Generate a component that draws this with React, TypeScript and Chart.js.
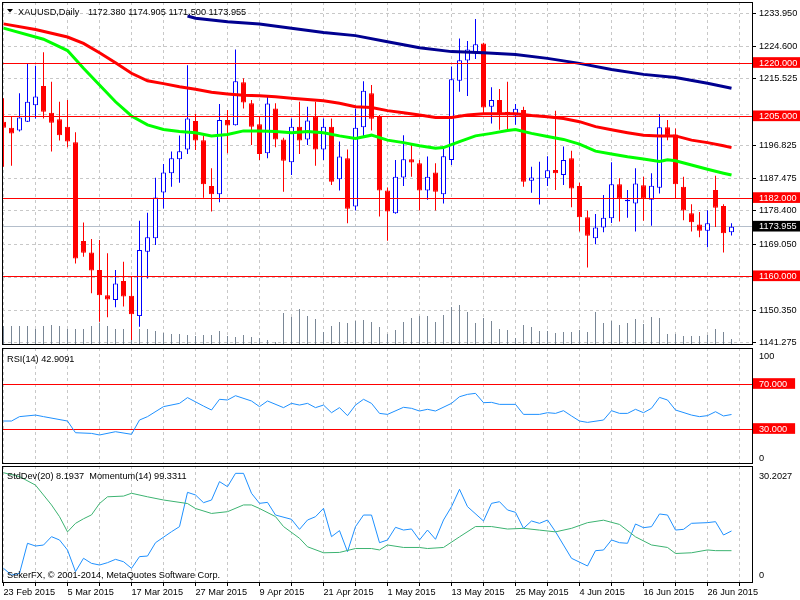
import React, { useEffect, useRef } from 'react';
import { Chart, registerables } from 'chart.js';

Chart.register(...registerables);

const FONT = "'Liberation Sans', Arial, sans-serif";
const FS = 9.2;
const GRID_COLOR = '#C8C8C8';

// ---- price data (daily candles, index 0 = 23 Feb 2015) ----
const OPEN = [1203.5,1201.8,1201.0,1203.5,1208.1,1213.5,1206.0,1204.2,1202.1,1197.7,1169.9,1166.7,1161.8,1154.7,1153.3,1158.7,1154.5,1148.8,1166.9,1170.7,1183.6,1189.0,1192.9,1195.7,1203.7,1198.3,1185.4,1183.1,1204.0,1202.5,1214.6,1208.7,1202.8,1194.6,1207.2,1198.5,1192.1,1202.1,1198.5,1204.9,1195.7,1202.1,1187.3,1193.2,1179.6,1201.9,1211.5,1205.1,1184.1,1177.7,1187.8,1192.9,1191.8,1184.1,1189.2,1183.1,1192.7,1215.0,1220.7,1223.0,1225.5,1207.7,1209.6,1206.3,1205.2,1206.8,1186.9,1187.5,1187.6,1189.9,1188.5,1193.2,1185.4,1176.6,1170.7,1173.7,1176.3,1185.9,1181.1,1180.5,1185.6,1181.5,1184.9,1201.9,1199.9,1185.2,1177.7,1174.6,1172.8,1184.3,1179.8,1172.38];
const HIGH = [1210.1,1204.9,1211.5,1219.9,1219.2,1223.0,1214.7,1209.1,1209.6,1200.5,1175.1,1170.5,1170.2,1166.5,1161.8,1164.1,1159.9,1175.6,1177.9,1187.7,1191.6,1195.1,1199.6,1219.4,1205.7,1199.5,1190.4,1208.5,1206.8,1223.8,1215.7,1209.6,1204.9,1210.7,1208.7,1199.0,1204.4,1209.1,1207.7,1209.1,1204.4,1204.4,1197.9,1195.7,1207.2,1214.9,1213.8,1205.4,1185.0,1192.7,1199.7,1197.4,1192.7,1193.7,1191.8,1196.5,1219.0,1226.9,1226.2,1232.4,1225.7,1213.2,1212.7,1214.7,1208.5,1207.7,1190.8,1192.2,1193.8,1206.6,1196.5,1195.3,1186.3,1178.5,1177.5,1182.9,1192.1,1187.6,1184.3,1190.4,1188.0,1189.0,1205.6,1204.0,1201.6,1188.0,1180.3,1178.1,1178.6,1188.3,1180.3,1174.905];
const LOW = [1190.8,1191.1,1200.7,1203.4,1204.4,1204.4,1195.1,1198.2,1196.3,1163.6,1165.5,1155.2,1147.2,1148.5,1151.3,1151.5,1142.1,1145.8,1159.4,1168.8,1179.1,1185.2,1186.3,1194.4,1195.5,1182.1,1178.2,1180.8,1194.6,1202.4,1207.2,1196.9,1192.7,1193.2,1196.3,1183.8,1188.5,1194.4,1196.9,1191.1,1192.7,1185.7,1184.1,1174.9,1178.5,1199.1,1201.0,1176.8,1170.0,1177.6,1185.4,1188.0,1178.5,1181.5,1178.5,1180.5,1191.3,1211.9,1210.7,1221.1,1205.4,1203.0,1201.2,1201.0,1202.6,1185.2,1183.5,1180.2,1185.4,1184.3,1185.7,1179.4,1172.6,1162.5,1169.0,1172.4,1175.0,1175.4,1176.5,1172.6,1175.6,1174.2,1183.3,1198.3,1181.9,1175.8,1172.6,1171.0,1168.2,1173.9,1166.7,1171.5];
const CLOSE = [1201.8,1200.2,1204.7,1209.1,1210.6,1206.3,1203.2,1199.7,1197.9,1165.0,1166.6,1161.6,1154.7,1153.5,1158.0,1154.3,1149.3,1167.4,1171.0,1182.2,1189.2,1193.2,1195.2,1204.4,1198.2,1185.9,1183.1,1204.0,1202.4,1214.9,1208.9,1202.1,1194.4,1208.6,1198.5,1192.5,1202.1,1198.2,1203.8,1195.7,1202.1,1186.6,1193.7,1179.0,1201.8,1212.2,1204.3,1184.1,1178.2,1188.0,1192.9,1192.0,1184.1,1188.0,1183.8,1193.8,1215.4,1220.8,1223.8,1225.3,1207.5,1209.6,1205.8,1205.8,1207.1,1186.6,1187.8,1187.7,1189.8,1189.0,1192.7,1184.7,1176.6,1171.4,1173.7,1176.5,1185.9,1181.9,1181.5,1186.1,1181.9,1185.5,1201.9,1199.7,1185.9,1178.5,1175.2,1172.8,1174.9,1179.3,1172.1,1173.955];
const VOLUME = [18,18,18,18,15,18,19,18,15,15,15,18,21,18,15,15,16,15,15,13,11,10,10,9,8,9,9,13,8,7,9,7,6,4,2,31,27,35,28,25,12,18,22,21,23,24,22,17,10,14,22,26,28,28,22,29,37,39,32,21,26,23,15,14,6,19,17,13,13,11,12,12,14,12,32,21,23,19,21,25,20,27,26,10,10,8,8,8,9,15,12,5];

// ---- moving averages, read as [bar index, price] ----
const MA_FAST = [[0,1229.8],[5,1226.7],[8,1223.5],[10,1218.5],[12,1213.8],[14,1209.1],[16,1205.1],[18,1202.6],[20,1201.3],[22,1200.7],[24,1200.4],[26,1199.5],[28,1199.9],[30,1200.9],[32,1200.9],[34,1200.7],[36,1200.4],[38,1200.7],[40,1200.4],[42,1199.5],[44,1198.8],[46,1199.7],[48,1198.3],[50,1197.6],[52,1196.7],[54,1196.0],[55,1196.2],[57,1197.9],[59,1199.5],[61,1200.2],[63,1201.0],[64,1201.3],[66,1200.2],[68,1199.3],[70,1198.5],[72,1197.2],[74,1195.2],[76,1194.4],[78,1193.6],[80,1193.0],[82,1192.3],[83,1192.8],[84,1192.5],[86,1191.3],[88,1190.1],[90,1189.0],[91,1188.5]];
const MA_MID = [[0,1231.0],[4,1229.4],[8,1227.3],[10,1225.5],[12,1222.9],[14,1220.1],[16,1217.1],[18,1215.0],[20,1214.2],[22,1213.3],[24,1212.6],[26,1211.8],[28,1211.3],[30,1210.9],[32,1210.8],[34,1210.5],[36,1210.1],[38,1209.7],[40,1209.4],[42,1208.7],[44,1207.7],[46,1207.5],[48,1206.6],[50,1206.0],[52,1205.4],[54,1204.7],[56,1204.7],[58,1205.4],[60,1205.7],[62,1205.7],[64,1205.7],[66,1205.2],[68,1204.9],[70,1204.4],[72,1203.5],[74,1202.1],[76,1201.2],[78,1200.4],[80,1199.7],[82,1199.5],[84,1199.5],[86,1198.3],[88,1197.6],[90,1196.7],[91,1196.2]];
const MA_SLOW = [[23,1233.2],[24,1232.6],[28,1231.6],[32,1231.0],[36,1229.8],[40,1228.6],[44,1227.7],[48,1226.0],[52,1224.3],[56,1223.2],[60,1222.9],[64,1222.4],[68,1221.3],[72,1219.9],[76,1218.2],[80,1216.8],[84,1215.9],[88,1214.3],[91,1212.9]];

// ---- indicators ----
const RSI = [[0,37.1],[1,37.1],[2,41.0],[4,42.4],[5,41.0],[8,37.1],[9,26.7],[11,26.1],[12,24.7],[14,27.6],[16,25.3],[17,38.0],[18,41.0],[20,49.9],[22,52.8],[23,57.9],[25,50.4],[26,46.9],[27,56.4],[28,55.8],[29,59.6],[31,54.9],[32,49.9],[33,54.9],[35,49.0],[36,52.8],[37,51.3],[38,52.8],[39,49.0],[40,51.3],[41,44.5],[42,49.0],[43,41.9],[44,51.3],[45,56.4],[46,52.8],[47,43.9],[48,43.0],[50,49.3],[51,48.4],[52,46.0],[53,47.5],[54,46.0],[56,52.8],[57,58.7],[58,60.8],[59,61.7],[60,53.4],[61,53.7],[62,51.9],[64,51.9],[65,43.0],[67,43.0],[68,44.5],[69,43.9],[70,46.3],[71,41.6],[72,37.1],[73,35.9],[75,38.0],[76,46.3],[77,43.9],[78,43.9],[79,47.5],[80,44.5],[81,48.4],[82,58.1],[83,55.8],[84,46.9],[86,42.4],[87,41.0],[88,41.9],[89,45.4],[90,41.6],[91,42.9091]];
const STDDEV = [[0,30.2],[2,29.1],[4,26.7],[5,23.9],[6,21.1],[7,17.8],[8,13.5],[9,15.9],[10,17.2],[11,18.3],[12,21.5],[13,23.4],[15,23.6],[16,24.4],[18,23.4],[20,22.5],[23,21.5],[24,20.1],[26,18.7],[28,19.2],[30,21.1],[31,21.1],[32,20.1],[34,17.8],[35,15.0],[37,11.7],[38,9.3],[40,7.6],[42,7.7],[44,8.8],[46,8.8],[47,8.4],[48,9.8],[50,9.1],[52,9.1],[53,8.8],[55,9.1],[57,12.1],[59,15.0],[61,15.0],[63,14.3],[65,14.5],[67,14.0],[69,13.5],[71,14.5],[73,16.1],[75,16.8],[77,15.6],[79,12.1],[81,9.8],[83,9.1],[84,7.4],[86,7.6],[88,8.4],[89,8.2],[91,8.1937]];
const MOMENTUM = [[0,95.50],[1,94.81],[2,94.98],[3,98.07],[4,97.79],[5,97.89],[6,98.75],[7,98.41],[8,97.38],[9,95.16],[10,96.53],[11,96.01],[12,95.84],[13,96.08],[14,96.42],[15,96.18],[16,95.50],[17,96.70],[18,96.76],[19,98.13],[21,99.26],[22,99.78],[23,103.30],[24,103.03],[25,102.24],[26,102.51],[27,104.40],[28,103.88],[29,105.25],[30,105.25],[31,103.20],[32,102.17],[33,102.27],[34,100.97],[36,100.53],[37,99.50],[38,100.46],[39,100.80],[40,101.66],[41,98.75],[42,99.37],[43,97.21],[44,99.78],[45,100.97],[46,100.97],[47,98.13],[48,98.41],[49,99.71],[50,99.43],[51,99.54],[52,98.41],[53,99.43],[54,98.48],[55,100.46],[56,101.83],[57,103.61],[58,101.83],[60,100.36],[61,102.17],[62,102.34],[63,101.49],[64,101.25],[65,99.60],[66,100.36],[67,100.12],[68,100.46],[69,99.26],[70,97.89],[71,96.53],[73,95.74],[74,97.31],[75,97.38],[76,98.41],[77,98.13],[78,98.07],[79,100.05],[80,99.67],[81,99.78],[82,101.08],[83,100.97],[84,99.43],[85,99.50],[86,100.12],[88,100.19],[89,100.29],[90,98.92],[91,99.3311]];

// ---- axes / labels ----
const PRICE_TICKS = [1233.95,1224.6,1215.525,1205.475,1196.825,1187.475,1178.4,1169.05,1159.7,1150.35,1141.275];
const LEVELS = [1220, 1205, 1182, 1160];
const CURRENT = 1173.955;
const RSI_LEVELS = [30, 70];
const SD_TOP_LABEL = '30.2027';
const GRID_IDX = [0,4,8,12,16,20,24,28,32,36,40,44,48,52,56,60,64,68,72,76,80,84,88,92];
const DATE_IDX = [0,8,16,24,32,40,48,56,64,72,80,88];
const DATE_LABELS = ['23 Feb 2015','5 Mar 2015','17 Mar 2015','27 Mar 2015','9 Apr 2015','21 Apr 2015','1 May 2015','13 May 2015','25 May 2015','4 Jun 2015','16 Jun 2015','26 Jun 2015'];
const SYMBOL = 'XAUUSD,Daily';
const COPYRIGHT = 'SekerFX, \u00A9 2001-2014, MetaQuotes Software Corp.';

const XMIN = -0.1875;
const XMAX = 93.5625;

const pts = (a: number[][]) => a.map(([x, y]) => ({ x, y }));
const fontStr = `${FS}px ${FONT}`;

function xAxis(labels: boolean): any {
  return {
    type: 'linear',
    min: XMIN,
    max: XMAX,
    offset: false,
    afterBuildTicks: (s: any) => { s.ticks = GRID_IDX.map((v) => ({ value: v })); },
    afterFit: (s: any) => { s.height = labels ? 18 : 0; s.paddingLeft = 0; s.paddingRight = 0; },
    grid: { color: GRID_COLOR, lineWidth: 1, offset: false, drawTicks: labels, tickLength: 4, tickColor: '#000' },
    border: { display: false, dash: (c: any) => (c.type === 'tick' ? [3, 3] : []) },
    ticks: {
      display: labels, autoSkip: false, maxRotation: 0, minRotation: 0, align: 'start', padding: 1,
      color: '#000', font: { family: FONT, size: FS },
      callback: (v: any) => { const k = DATE_IDX.indexOf(Number(v)); return k >= 0 ? DATE_LABELS[k] : ''; },
    },
  };
}

function frame(ctx: CanvasRenderingContext2D, a: any) {
  ctx.strokeStyle = '#000';
  ctx.lineWidth = 1;
  ctx.strokeRect(a.left + 0.5, a.top + 0.5, a.right - a.left, a.bottom - a.top);
}

const baseOpts = {
  responsive: false,
  animation: false as const,
  devicePixelRatio: 1,
  events: [] as any[],
  plugins: { legend: { display: false }, tooltip: { enabled: false } },
};

function makeMain(canvas: HTMLCanvasElement) {
  const bull = (i: number) => CLOSE[i] >= OPEN[i];
  const kind = (v: number) => (LEVELS.includes(v) ? 'level' : v === CURRENT ? 'cur' : 'n');
  const idx = OPEN.map((_, i) => i);
  const overlay = {
    id: 'mainOverlay',
    afterDatasetsDraw(chart: any) {
      const { ctx, chartArea: a, scales } = chart;
      ctx.save();
      ctx.strokeStyle = '#FF0000';
      ctx.lineWidth = 1;
      LEVELS.forEach((v) => {
        const y = Math.round(scales.y.getPixelForValue(v)) + 0.5;
        ctx.beginPath(); ctx.moveTo(a.left, y); ctx.lineTo(a.right, y); ctx.stroke();
      });
      ctx.restore();
    },
    afterDraw(chart: any) {
      const { ctx, chartArea: a } = chart;
      ctx.save();
      frame(ctx, a);
      ctx.fillStyle = '#000';
      ctx.beginPath(); ctx.moveTo(7, 9); ctx.lineTo(13, 9); ctx.lineTo(10, 12.5); ctx.closePath(); ctx.fill();
      ctx.font = fontStr;
      ctx.textBaseline = 'alphabetic';
      ctx.fillText(SYMBOL, 18, 14.5);
      const last = OPEN.length - 1;
      ctx.fillText(`${OPEN[last].toFixed(3)} ${HIGH[last].toFixed(3)} ${LOW[last].toFixed(3)} ${CLOSE[last].toFixed(3)}`, 88, 14.5);
      ctx.restore();
    },
  };
  return new Chart(canvas, {
    type: 'bar',
    data: {
      datasets: [
        { type: 'line', data: pts(MA_FAST), borderColor: '#00FF00', borderWidth: 3, pointRadius: 0, tension: 0, order: 0, yAxisID: 'y' } as any,
        { type: 'line', data: pts(MA_MID), borderColor: '#FF0000', borderWidth: 3, pointRadius: 0, tension: 0, order: 0, yAxisID: 'y' } as any,
        { type: 'line', data: pts(MA_SLOW), borderColor: '#000090', borderWidth: 3, pointRadius: 0, tension: 0, order: 0, yAxisID: 'y' } as any,
        {
          type: 'bar', data: idx.map((i) => ({ x: i, y: [OPEN[i], CLOSE[i]] })), yAxisID: 'y', order: 1,
          barThickness: 5, grouped: false, borderSkipped: false, borderWidth: 1, inflateAmount: 0,
          backgroundColor: (c: any) => (bull(c.dataIndex) ? '#FFFFFF' : '#FF0000'),
          borderColor: (c: any) => (bull(c.dataIndex) ? '#0000FF' : '#FF0000'),
        } as any,
        {
          type: 'bar', data: idx.map((i) => ({ x: i, y: [LOW[i], HIGH[i]] })), yAxisID: 'y', order: 2,
          barThickness: 1, grouped: false, borderWidth: 0, inflateAmount: 0,
          backgroundColor: (c: any) => (bull(c.dataIndex) ? '#0000FF' : '#FF0000'),
        } as any,
        {
          type: 'bar', data: idx.map((i) => ({ x: i, y: VOLUME[i] })), yAxisID: 'yVol', order: 3,
          barThickness: 1, grouped: false, borderWidth: 0, inflateAmount: 0, backgroundColor: '#7A8796',
        } as any,
      ],
    },
    options: {
      ...baseOpts,
      layout: { padding: { left: 2, top: 2, right: 0, bottom: 256 } },
      scales: {
        x: xAxis(false),
        y: {
          type: 'linear', position: 'right', min: 1140.955, max: 1237.159,
          afterBuildTicks: (s: any) => { s.ticks = [...PRICE_TICKS, ...LEVELS, CURRENT].map((v) => ({ value: v })); },
          afterFit: (s: any) => { s.width = 48; s.paddingTop = 0; s.paddingBottom = 0; },
          grid: {
            lineWidth: 1, drawTicks: true, tickLength: 4,
            color: (c: any) => { if (!c.tick) return GRID_COLOR; const k = kind(c.tick.value); return k === 'n' ? GRID_COLOR : k === 'cur' ? '#B4BECB' : 'rgba(0,0,0,0)'; },
            tickColor: (c: any) => (c.tick && kind(c.tick.value) === 'level' ? '#FF0000' : '#000'),
          },
          border: { display: true, color: '#000', width: 1, dash: (c: any) => (c.type === 'tick' && c.tick && kind(c.tick.value) === 'n' ? [3, 3] : []) },
          ticks: {
            autoSkip: false, padding: 3, font: { family: FONT, size: FS, lineHeight: 1.05 },
            color: (c: any) => (c.tick && kind(c.tick.value) !== 'n' ? '#FFFFFF' : '#000000'),
            showLabelBackdrop: true,
            backdropColor: (c: any) => { if (!c.tick) return 'rgba(0,0,0,0)'; const k = kind(c.tick.value); return k === 'level' ? '#FF0000' : k === 'cur' ? '#000000' : 'rgba(0,0,0,0)'; },
            backdropPadding: { top: 1, bottom: 0, left: 6, right: 8 },
            callback: (v: any) => Number(v).toFixed(3),
          },
        } as any,
        yVol: { type: 'linear', display: false, min: 0, max: 342 },
      },
    } as any,
    plugins: [overlay],
  });
}

function makeRsi(canvas: HTMLCanvasElement) {
  const overlay = {
    id: 'rsiOverlay',
    afterDraw(chart: any) {
      const { ctx, chartArea: a } = chart;
      ctx.save();
      frame(ctx, a);
      ctx.fillStyle = '#000';
      ctx.font = fontStr;
      ctx.textBaseline = 'alphabetic';
      ctx.fillText(`RSI(14) ${RSI[RSI.length - 1][1].toFixed(4)}`, 7, 362);
      ctx.fillText('100', 759, 359);
      ctx.fillText('0', 759, 460.5);
      ctx.restore();
    },
  };
  return new Chart(canvas, {
    type: 'line',
    data: { datasets: [{ data: pts(RSI), borderColor: '#1E90FF', borderWidth: 1, pointRadius: 0, tension: 0 }] },
    options: {
      ...baseOpts,
      layout: { padding: { left: 2, top: 348, right: 0, bottom: 137 } },
      scales: {
        x: xAxis(false),
        y: {
          type: 'linear', position: 'right', min: -0.2, max: 102,
          afterBuildTicks: (s: any) => { s.ticks = [0, 30, 70, 100].map((v) => ({ value: v })); },
          afterFit: (s: any) => { s.width = 48; s.paddingTop = 0; s.paddingBottom = 0; },
          grid: {
            lineWidth: 1, drawTicks: true, tickLength: 4, tickColor: 'rgba(0,0,0,0)',
            color: (c: any) => (c.tick && RSI_LEVELS.includes(c.tick.value) ? '#FF0000' : 'rgba(0,0,0,0)'),
          },
          border: { display: true, color: '#000', width: 1 },
          ticks: {
            autoSkip: false, padding: 3, font: { family: FONT, size: FS, lineHeight: 1.05 }, color: '#FFFFFF',
            showLabelBackdrop: true,
            backdropColor: (c: any) => (c.tick && RSI_LEVELS.includes(c.tick.value) ? '#FF0000' : 'rgba(0,0,0,0)'),
            backdropPadding: { top: 1, bottom: 0, left: 6, right: 8 },
            callback: (v: any) => (RSI_LEVELS.includes(Number(v)) ? Number(v).toFixed(3) : ''),
          },
        } as any,
      },
    } as any,
    plugins: [overlay],
  });
}

function makeLower(canvas: HTMLCanvasElement) {
  const overlay = {
    id: 'lowerOverlay',
    afterDraw(chart: any) {
      const { ctx, chartArea: a } = chart;
      ctx.save();
      frame(ctx, a);
      ctx.fillStyle = '#000';
      ctx.font = fontStr;
      ctx.textBaseline = 'alphabetic';
      ctx.fillText(`StdDev(20) ${STDDEV[STDDEV.length - 1][1].toFixed(4)}  Momentum(14) ${MOMENTUM[MOMENTUM.length - 1][1].toFixed(4)}`, 7, 479);
      ctx.fillText(COPYRIGHT, 7, 577.5);
      ctx.fillText(SD_TOP_LABEL, 759, 479);
      ctx.fillText('0', 759, 577.5);
      ctx.restore();
    },
  };
  return new Chart(canvas, {
    type: 'line',
    data: {
      datasets: [
        { data: pts(STDDEV), yAxisID: 'ySd', borderColor: '#3CB371', borderWidth: 1, pointRadius: 0, tension: 0 },
        { data: pts(MOMENTUM), yAxisID: 'yMom', borderColor: '#1E90FF', borderWidth: 1, pointRadius: 0, tension: 0 },
      ],
    },
    options: {
      ...baseOpts,
      layout: { padding: { left: 2, top: 466, right: 0, bottom: 0 } },
      scales: {
        x: xAxis(true),
        ySd: {
          type: 'linear', position: 'right', min: -0.649, max: 32.094,
          afterFit: (s: any) => { s.width = 48; s.paddingTop = 0; s.paddingBottom = 0; },
          grid: { display: false, drawTicks: false },
          border: { display: true, color: '#000', width: 1 },
          ticks: { display: false },
        } as any,
        yMom: { type: 'linear', display: false, min: 94.095, max: 106.004 },
      },
    } as any,
    plugins: [overlay],
  });
}

export default function App() {
  const r1 = useRef<HTMLCanvasElement>(null);
  const r2 = useRef<HTMLCanvasElement>(null);
  const r3 = useRef<HTMLCanvasElement>(null);
  useEffect(() => {
    document.body.style.margin = '0';
    const charts = [makeMain(r1.current!), makeRsi(r2.current!), makeLower(r3.current!)];
    return () => charts.forEach((c) => c.destroy());
  }, []);
  const st: React.CSSProperties = { position: 'absolute', left: 0, top: 0 };
  return (
    <div style={{ position: 'fixed', left: 0, top: 0, width: 800, height: 600, background: '#FFFFFF', overflow: 'hidden' }}>
      <canvas ref={r1} width={800} height={600} style={st} />
      <canvas ref={r2} width={800} height={600} style={st} />
      <canvas ref={r3} width={800} height={600} style={st} />
    </div>
  );
}
